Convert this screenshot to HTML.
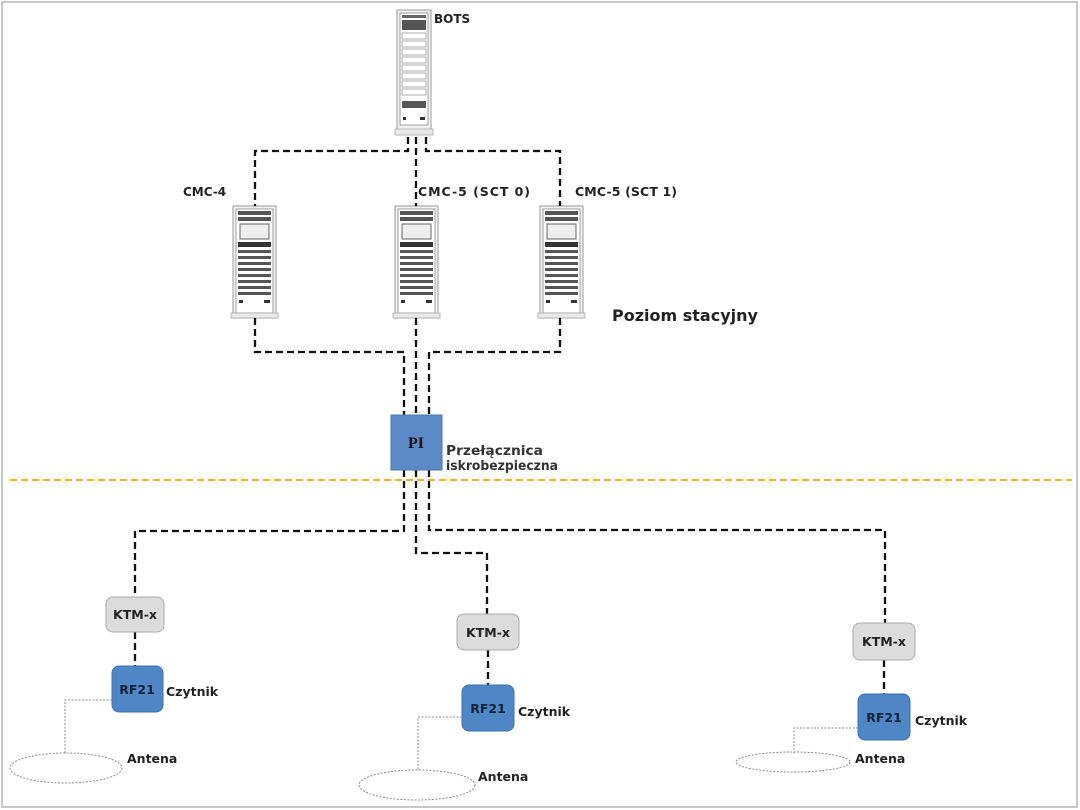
<!DOCTYPE html>
<html><head><meta charset="utf-8"><style>
html,body{margin:0;padding:0;background:#fff;}
svg{display:block;}
text{font-family:"DejaVu Sans","Liberation Sans",sans-serif;fill:#222;}
</style></head><body>
<svg width="1080" height="810" viewBox="0 0 1080 810" xmlns="http://www.w3.org/2000/svg">
<defs>
<g id="rack">
  <rect x="0" y="0" width="43" height="112" fill="#f2f2f2" stroke="#999" stroke-width="1"/>
  <rect x="3" y="3" width="37" height="104" fill="#fff" stroke="#888" stroke-width="0.8"/>
  <rect x="5" y="5" width="33" height="4" fill="#555"/>
  <rect x="5" y="11" width="33" height="4" fill="#555"/>
  <rect x="7" y="18" width="29" height="15" fill="#eee" stroke="#666" stroke-width="1"/>
  <rect x="5" y="36" width="33" height="5" fill="#333"/>
  <rect x="5" y="44" width="33" height="3" fill="#555"/>
  <rect x="5" y="50" width="33" height="3" fill="#555"/>
  <rect x="5" y="56" width="33" height="3" fill="#555"/>
  <rect x="5" y="62" width="33" height="3" fill="#555"/>
  <rect x="5" y="68" width="33" height="3" fill="#555"/>
  <rect x="5" y="74" width="33" height="3" fill="#555"/>
  <rect x="5" y="80" width="33" height="3" fill="#555"/>
  <rect x="5" y="86" width="33" height="3" fill="#555"/>
  <rect x="6" y="94" width="4" height="3" fill="#333"/>
  <rect x="31" y="94" width="6" height="3" fill="#333"/>
  <rect x="-2" y="107" width="47" height="5" fill="#e8e8e8" stroke="#aaa" stroke-width="0.8"/>
</g>
</defs>
<rect x="2" y="2" width="1075" height="805" fill="none" stroke="#c8c8c8" stroke-width="2"/>

<g>
  <rect x="397" y="10" width="34" height="120" fill="#f2f2f2" stroke="#999"/>
  <rect x="400" y="13" width="28" height="112" fill="#fff" stroke="#888" stroke-width="0.8"/>
  <rect x="402" y="15" width="24" height="3" fill="#666"/>
  <rect x="402" y="20" width="24" height="10" fill="#555"/>
  <g fill="none" stroke="#999" stroke-width="0.8">
    <rect x="402" y="33" width="24" height="6"/><rect x="402" y="41" width="24" height="6"/>
    <rect x="402" y="49" width="24" height="6"/><rect x="402" y="57" width="24" height="6"/>
    <rect x="402" y="65" width="24" height="6"/><rect x="402" y="73" width="24" height="6"/>
    <rect x="402" y="81" width="24" height="6"/><rect x="402" y="89" width="24" height="6"/>
  </g>
  <rect x="402" y="101" width="24" height="7" fill="#555"/>
  <rect x="403" y="117" width="3" height="3" fill="#333"/><rect x="420" y="117" width="5" height="3" fill="#333"/>
  <rect x="395" y="129" width="38" height="6" fill="#e8e8e8" stroke="#aaa" stroke-width="0.8"/>
</g>
<text x="434" y="23" font-size="12" font-weight="bold">BOTS</text>

<use href="#rack" x="233" y="206"/>
<use href="#rack" x="395" y="206"/>
<use href="#rack" x="540" y="206"/>
<text x="183" y="196" font-size="12" font-weight="bold">CMC-4</text>
<text x="418" y="196" font-size="12.5" font-weight="bold" textLength="112" lengthAdjust="spacing">CMC-5 (SCT 0)</text>
<text x="575" y="196" font-size="12.5" font-weight="bold" textLength="102" lengthAdjust="spacing">CMC-5 (SCT 1)</text>
<text x="612" y="321" font-size="16" font-weight="bold">Poziom stacyjny</text>

<g fill="none" stroke="#111" stroke-width="2.3" stroke-dasharray="7,4">
  <polyline points="408,137 408,151 255,151 255,206"/>
  <polyline points="416,137 416,206"/>
  <polyline points="426,137 426,151 560,151 560,206"/>
  <polyline points="255,318 255,352 404,352 404,415"/>
  <polyline points="416,318 416,415"/>
  <polyline points="560,318 560,352 429,352 429,415"/>
  <polyline points="404,470 404,531 135,531 135,597"/>
  <polyline points="416,470 416,553 487,553 487,614"/>
  <polyline points="429,470 429,530 885,530 885,623"/>
  <line x1="135" y1="632" x2="135" y2="666"/>
  <line x1="488" y1="650" x2="488" y2="685"/>
  <line x1="884" y1="660" x2="884" y2="694"/>
</g>

<rect x="391" y="415" width="51" height="55" fill="#5b8ac6" stroke="#4a78b0"/>
<text x="416" y="448" font-size="16" font-weight="bold" text-anchor="middle" style="font-family:'Liberation Serif',serif;fill:#111">PI</text>
<text x="446" y="455" font-size="13" font-weight="bold" textLength="97" lengthAdjust="spacingAndGlyphs" style="fill:#333">Przełącznica</text>
<text x="446" y="470" font-size="13" font-weight="bold" textLength="112" lengthAdjust="spacingAndGlyphs" style="fill:#333">iskrobezpieczna</text>

<line x1="10" y1="480" x2="1072" y2="480" stroke="#f0b030" stroke-width="2" stroke-dasharray="7,4"/>

<g fill="#dcdcdc" stroke="#aaa" stroke-width="1">
  <rect x="106" y="597" width="58" height="35" rx="7"/>
  <rect x="457" y="614" width="62" height="36" rx="7"/>
  <rect x="853" y="623" width="62" height="37" rx="7"/>
</g>
<g font-size="12.5" font-weight="bold" text-anchor="middle">
  <text x="135" y="619">KTM-x</text>
  <text x="488" y="637">KTM-x</text>
  <text x="884" y="646">KTM-x</text>
</g>
<g fill="#4f86c6" stroke="#3f72ad" stroke-width="1">
  <rect x="112" y="666" width="51" height="46" rx="7"/>
  <rect x="462" y="685" width="52" height="46" rx="7"/>
  <rect x="858" y="694" width="52" height="46" rx="7"/>
</g>
<g font-size="12.5" font-weight="bold" text-anchor="middle">
  <text x="137" y="694" style="fill:#13233a">RF21</text>
  <text x="488" y="713" style="fill:#13233a">RF21</text>
  <text x="884" y="722" style="fill:#13233a">RF21</text>
</g>
<g font-size="12.5" font-weight="bold">
  <text x="166" y="696">Czytnik</text>
  <text x="518" y="716">Czytnik</text>
  <text x="915" y="725">Czytnik</text>
  <text x="127" y="763">Antena</text>
  <text x="478" y="781">Antena</text>
  <text x="855" y="763">Antena</text>
</g>
<g fill="none" stroke="#888" stroke-width="1" stroke-dasharray="2,1.5">
  <polyline points="112,700 65,700 65,754"/>
  <polyline points="462,717 418,717 418,771"/>
  <polyline points="858,728 794,728 794,754"/>
  <ellipse cx="66" cy="768" rx="56" ry="15"/>
  <ellipse cx="417" cy="785" rx="58" ry="15"/>
  <ellipse cx="793" cy="762" rx="57" ry="10"/>
</g>
</svg>
</body></html>
